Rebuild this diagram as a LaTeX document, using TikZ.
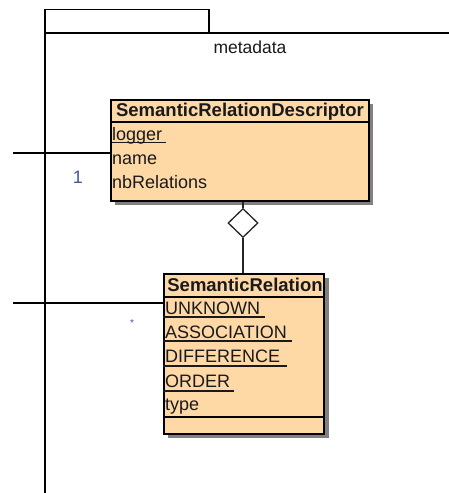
\documentclass[tikz,border=0pt]{standalone}
\usepackage{fontspec}
\setmainfont{Liberation Sans}
\usetikzlibrary{shapes.geometric}
\definecolor{classfill}{RGB}{254,217,166}
\definecolor{shadowgray}{RGB}{128,128,128}
\definecolor{txt}{RGB}{25,25,30}
\definecolor{multc}{RGB}{70,85,150}
\tikzset{
  frame/.style={line width=1.8pt, draw=black},
  classbox/.style={draw=black, line width=1.8pt, fill=classfill, rectangle, inner sep=0pt, anchor=north west},
  shadowbox/.style={fill=shadowgray, draw=none},
  attr/.style={anchor=base west, inner sep=0pt, text=txt, font=\fontsize{18}{20}\selectfont},
  hdr/.style={anchor=base, inner sep=0pt, text=txt, font=\fontsize{18.5}{20}\selectfont\bfseries},
  uline/.style={line width=1.4pt, draw=txt},
  assoc/.style={line width=1.6pt, draw=black},
  aggr/.style={line width=1.3pt, draw=black!85},
  multlab/.style={inner sep=0pt, text=multc, font=\fontsize{18}{20}\selectfont, anchor=base},
  diam/.style={diamond, draw=black!85, line width=1.3pt, fill=white, inner sep=0pt, minimum width=30pt, minimum height=29pt}
}
\begin{document}
\begin{tikzpicture}[x=1pt,y=-1pt]
\useasboundingbox (0,0) rectangle (449,493);
% package
\draw[frame] (45,493) -- (45,9.5) -- (209,9.5) -- (209,33);
\draw[frame] (45,33) -- (449,33);
\node[anchor=base, inner sep=0pt, text=txt, font=\fontsize{17.5}{20}\selectfont] (pkgname) at (250,53) {metadata};

% class 1 : SemanticRelationDescriptor
\fill[shadowbox] (115,104) rectangle (373,205);
\node[classbox, minimum width=258pt, minimum height=101pt] (cd) at (110,99) {};
\draw[line width=1.6pt] (cd.west |- 0,122) -- (cd.east |- 0,122);
\node[hdr] (cdname) at (240,116) {SemanticRelationDescriptor};
\node[attr] (cdlogger) at (112,140) {logger};
\draw[uline] (cdlogger.base west) ++(0,2.5) -- ++(54,0);
\node[attr] (cdnm) at (112,164.5) {name};
\node[attr] (cdnb) at (112,188) {nbRelations};

% class 2 : SemanticRelation
\fill[shadowbox] (168,278) rectangle (329,438);
\node[classbox, minimum width=160pt, minimum height=160pt] (cr) at (163,273) {};
\draw[line width=1.6pt] (cr.west |- 0,297) -- (cr.east |- 0,297);
\draw[line width=1.6pt] (cr.west |- 0,417) -- (cr.east |- 0,417);
\node[hdr] (crname) at (245,291) {SemanticRelation};
\node[attr] (cr1) at (165,314) {UNKNOWN};
\draw[uline] (cr.west |- 0,317) -- (265,317);
\node[attr] (cr2) at (165,338) {ASSOCIATION};
\draw[uline] (cr.west |- 0,341) -- (292,341);
\node[attr] (cr3) at (165,362) {DIFFERENCE};
\draw[uline] (cr.west |- 0,366) -- (287,366);
\node[attr] (cr4) at (165,387) {ORDER};
\draw[uline] (cr.west |- 0,391) -- (234,391);
\node[attr] (cr5) at (165,410) {type};

% aggregation
\node[diam] (dm) at (243,223) {};
\draw[aggr] (dm.north) -- (dm.north |- cd.south);
\draw[aggr] (dm.south) -- (dm.south |- cr.north);

% associations from outside the package
\coordinate (a1) at (13,153);
\coordinate (a2) at (13,303);
\draw[assoc] (a1) -- (a1 -| cd.west);
\draw[assoc] (a2) -- (a2 -| cr.west);
\node[multlab] (m1) at (78,183) {1};
\node[inner sep=0pt, text=multc, font=\fontsize{10}{12}\selectfont] (m2) at (132,323) {*};
\end{tikzpicture}
\end{document}
